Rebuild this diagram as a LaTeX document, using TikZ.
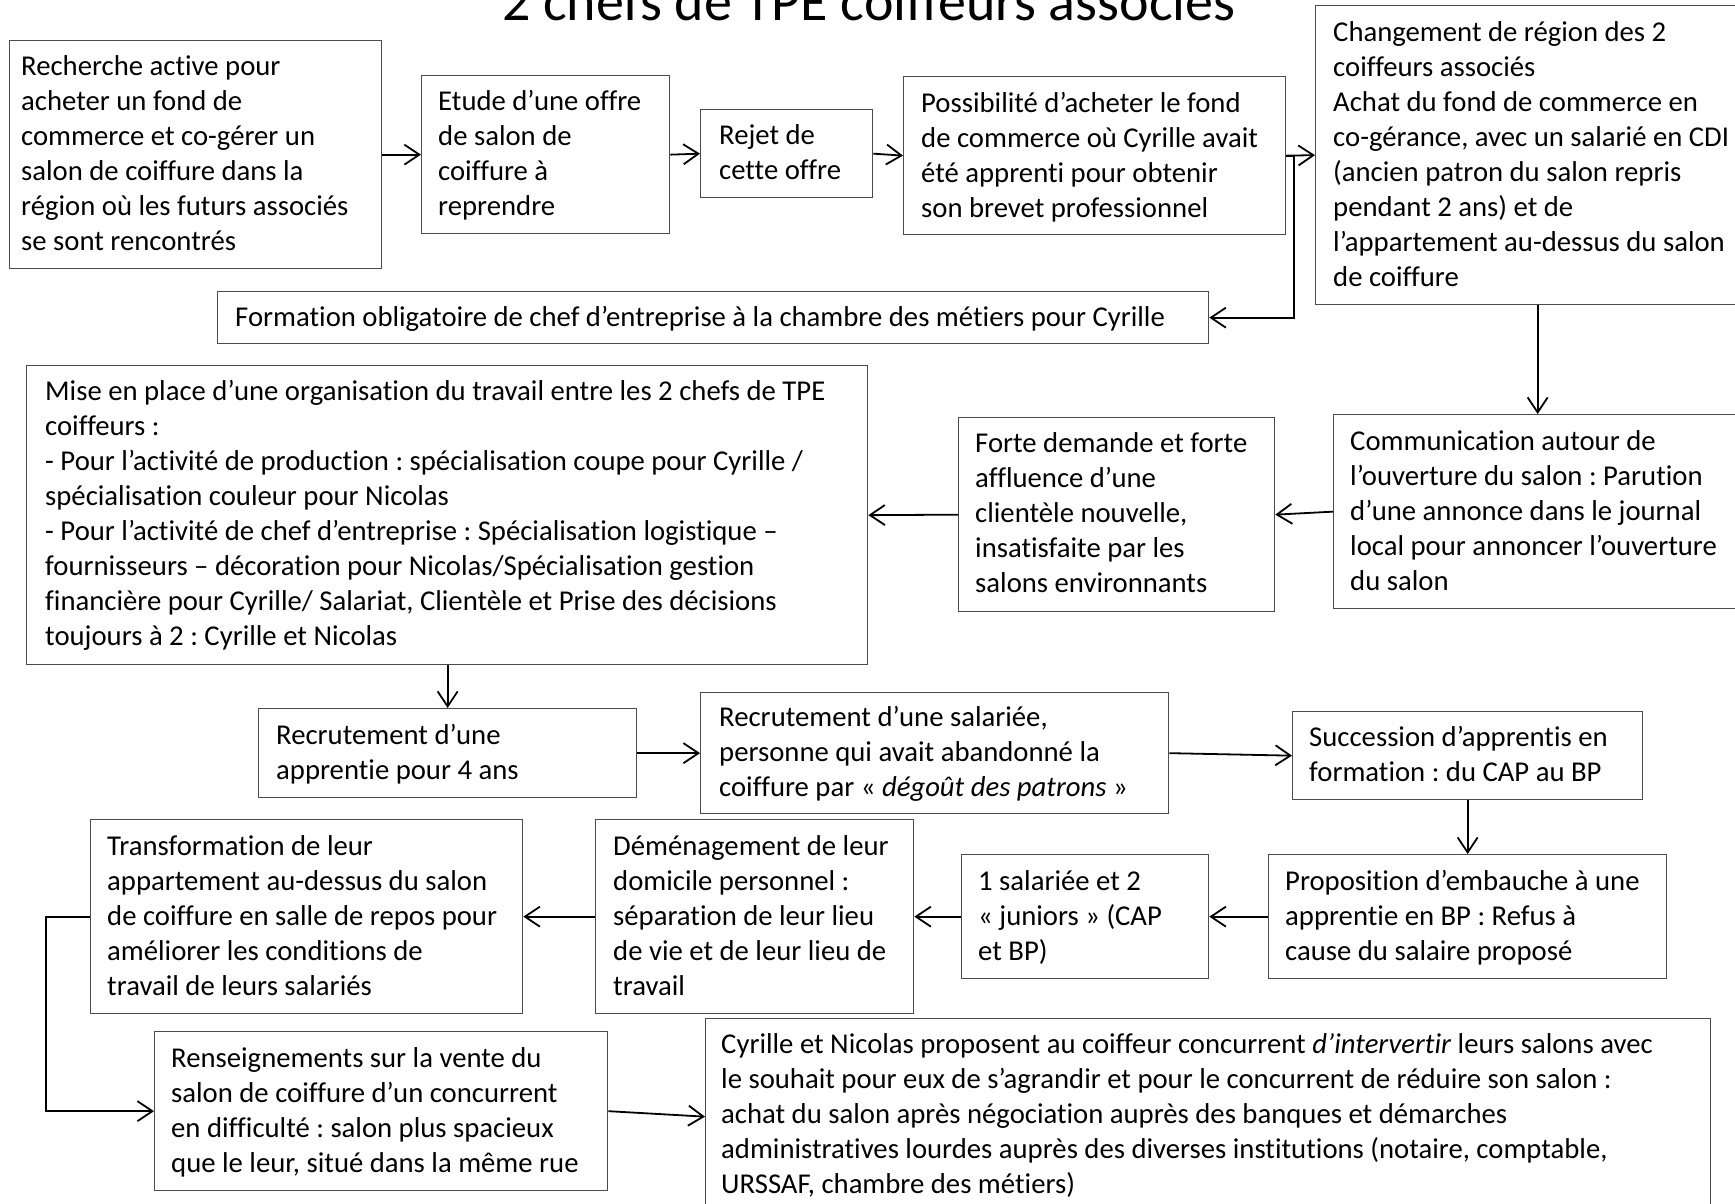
\documentclass[tikz,border=0pt]{standalone}
\usepackage{fontspec}
\setmainfont{Carlito}[Ligatures=NoCommon]
\usetikzlibrary{arrows.meta}
\newcommand\fs{\fontsize{28.7pt}{35pt}\selectfont}
\newcommand\fl{\rule{0pt}{25pt}}
\frenchspacing
\begin{document}
\begin{tikzpicture}[x=1pt,y=-1pt,
  box/.style={draw=black!70, line width=1.3pt, inner sep=0pt, anchor=north west},
  txt/.style={inner sep=0pt, anchor=north west, align=left, font=\fs},
  arr/.style={draw=black, line width=1.8pt, -{Straight Barb[length=15pt,width=20pt]}}]
\fill[white] (0,0) rectangle (1735,1203);
\useasboundingbox (0,0) rectangle (1735,1203);

\node[anchor=base west, inner sep=0pt, font=\fontsize{56pt}{60pt}\selectfont] (T) at (502,20) {2 chefs de TPE coiffeurs associés};

% boxes
\node[box, minimum width=372pt, minimum height=228pt] (A) at (9,40) {};
\node[box, minimum width=248pt, minimum height=158pt] (B) at (421,75) {};
\node[box, minimum width=172pt, minimum height=88pt] (C) at (700,109) {};
\node[box, minimum width=382pt, minimum height=158pt] (D) at (903,76) {};
\node[box, minimum width=426pt, minimum height=299pt] (E) at (1315,5) {};
\node[box, minimum width=991pt, minimum height=52pt] (F) at (217,291) {};
\node[box, minimum width=841pt, minimum height=299pt] (G) at (26,365) {};
\node[box, minimum width=316pt, minimum height=194pt] (H) at (958,417) {};
\node[box, minimum width=408pt, minimum height=194pt] (I) at (1333,414) {};
\node[box, minimum width=378pt, minimum height=89pt] (J) at (258,708) {};
\node[box, minimum width=468pt, minimum height=121pt] (K) at (700,692) {};
\node[box, minimum width=350pt, minimum height=88pt] (L) at (1292,711) {};
\node[box, minimum width=398pt, minimum height=124pt] (M) at (1268,854) {};
\node[box, minimum width=247pt, minimum height=124pt] (N) at (961,854) {};
\node[box, minimum width=318pt, minimum height=194pt] (O) at (595,819) {};
\node[box, minimum width=432pt, minimum height=194pt] (P) at (90,819) {};
\node[box, minimum width=453pt, minimum height=159pt] (Q) at (154,1031) {};
\node[box, minimum width=1005pt, minimum height=196pt] (R) at (705,1018) {};

% texts
\node[txt] (tA) at (21,50) {\fl Recherche active pour\\acheter un fond de\\commerce et co-gérer un\\salon de coiffure dans la\\région où les futurs associés\\se sont rencontrés};
\node[txt] (tB) at (438,85) {\fl Etude d’une offre\\de salon de\\coiffure à\\reprendre};
\node[txt] (tC) at (719,119) {\fl Rejet de\\cette offre};
\node[txt] (tD) at (921,87) {\fl Possibilité d’acheter le fond\\de commerce où Cyrille avait\\été apprenti pour obtenir\\son brevet professionnel};
\node[txt] (tE) at (1333,16) {\fl Changement de région des 2\\coiffeurs associés\\Achat du fond de commerce en\\co-gérance, avec un salarié en CDI\\(ancien patron du salon repris\\pendant 2 ans) et de\\l’appartement au-dessus du salon\\de coiffure};
\node[txt] (tF) at (235,301) {\fl Formation obligatoire de chef d’entreprise à la chambre des métiers pour Cyrille};
\node[txt] (tG) at (45,375) {\fl Mise en place d’une organisation du travail entre les 2 chefs de TPE\\coiffeurs :\\- Pour l’activité de production : spécialisation coupe pour Cyrille /\\spécialisation couleur pour Nicolas\\- Pour l’activité de chef d’entreprise : Spécialisation logistique –\\fournisseurs – décoration pour Nicolas/Spécialisation gestion\\financière pour Cyrille/ Salariat, Clientèle et Prise des décisions\\toujours à 2 : Cyrille et Nicolas};
\node[txt] (tH) at (975,427) {\fl Forte demande et forte\\affluence d’une\\clientèle nouvelle,\\insatisfaite par les\\salons environnants};
\node[txt] (tI) at (1350,425) {\fl Communication autour de\\l’ouverture du salon : Parution\\d’une annonce dans le journal\\local pour annoncer l’ouverture\\du salon};
\node[txt] (tJ) at (276,719) {\fl Recrutement d’une\\apprentie pour 4 ans};
\node[txt] (tK) at (719,701) {\fl Recrutement d’une salariée,\\personne qui avait abandonné la\\coiffure par « \textit{dégoût des patrons} »};
\node[txt] (tL) at (1309,721) {\fl Succession d’apprentis en\\formation : du CAP au BP};
\node[txt] (tM) at (1285,865) {\fl Proposition d’embauche à une\\apprentie en BP : Refus à\\cause du salaire proposé};
\node[txt] (tN) at (978,865) {\fl 1 salariée et 2\\« juniors » (CAP\\et BP)};
\node[txt] (tO) at (613,830) {\fl Déménagement de leur\\domicile personnel :\\séparation de leur lieu\\de vie et de leur lieu de\\travail};
\node[txt] (tP) at (107,830) {\fl Transformation de leur\\appartement au-dessus du salon\\de coiffure en salle de repos pour\\améliorer les conditions de\\travail de leurs salariés};
\node[txt] (tQ) at (171,1042) {\fl Renseignements sur la vente du\\salon de coiffure d’un concurrent\\en difficulté : salon plus spacieux\\que le leur, situé dans la même rue};
\node[txt] (tR) at (721,1028) {\fl Cyrille et Nicolas proposent au coiffeur concurrent \textit{d’intervertir} leurs salons avec\\le souhait pour eux de s’agrandir et pour le concurrent de réduire son salon :\\achat du salon après négociation auprès des banques et démarches\\administratives lourdes auprès des diverses institutions (notaire, comptable,\\URSSAF, chambre des métiers)};

% connectors
\draw[arr] (A.east) -- (B.west);
\draw[arr] (B.east) -- (C.west);
\draw[arr] (C.east) -- (D.west);
\draw[arr] (D.east) -- (E.west);
\draw[arr] (D.east) -- ++(8,0) |- (F.east);
\draw[arr] (I.north |- E.south) -- (I.north);
\draw[arr] (I.west) -- (H.east);
\draw[arr] (H.west) -- (G.east);
\draw[arr] (G.south -| J.north) -- (J.north);
\draw[arr] (J.east) -- (K.west);
\draw[arr] (K.east) -- (L.west);
\draw[arr] (L.south) -- (M.north);
\draw[arr] (M.west) -- (N.east);
\draw[arr] (N.west) -- (O.east);
\draw[arr] (O.west) -- (P.east);
\draw[arr] (P.west) -- ++(-44,0) |- (Q.west);
\draw[arr] (Q.east) -- (R.west);
\end{tikzpicture}
\end{document}
